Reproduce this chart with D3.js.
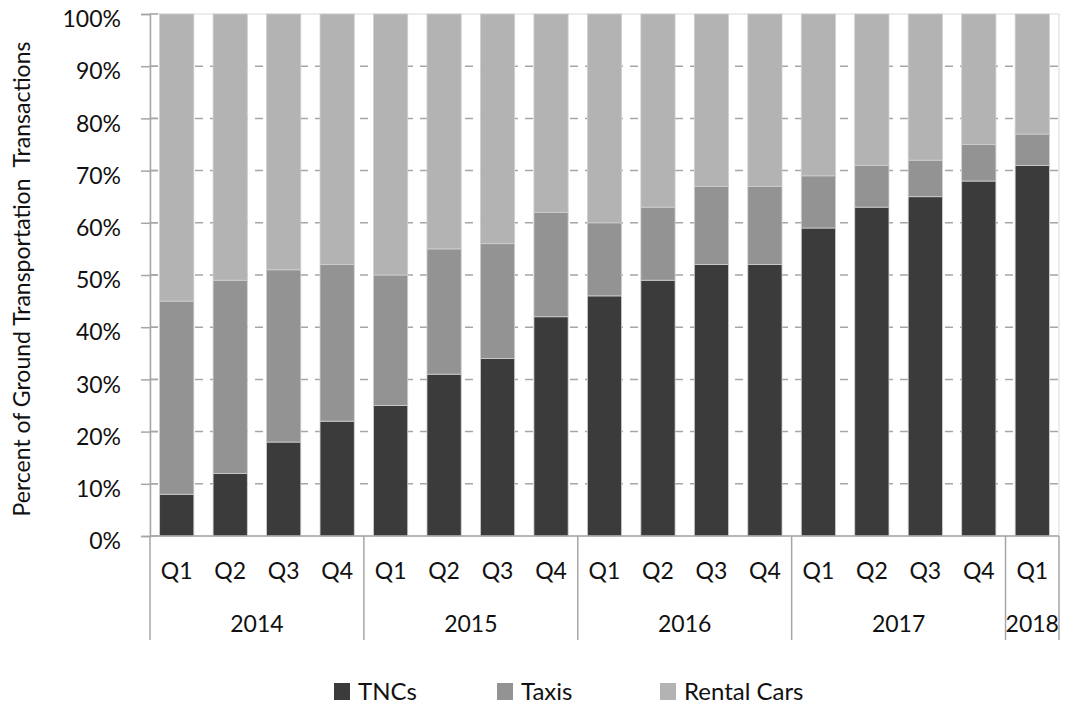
<!DOCTYPE html>
<html>
<head>
<meta charset="utf-8">
<script src="https://cdn.jsdelivr.net/npm/d3@7"></script>
<style>
  body { margin: 0; background: #fff; }
  text { font-family: Lato, "Open Sans", sans-serif; fill: #111; font-variant-numeric: tabular-nums; }
</style>
</head>
<body>
<div id="chart"></div>
<script>
// quarters and years on the two-level x axis
const quarters = ["Q1","Q2","Q3","Q4","Q1","Q2","Q3","Q4","Q1","Q2","Q3","Q4","Q1","Q2","Q3","Q4","Q1"];
const years = ["2014","2014","2014","2014","2015","2015","2015","2015","2016","2016","2016","2016","2017","2017","2017","2017","2018"];

// share of transactions, percent
const tncs   = [8, 12, 18, 22, 25, 31, 34, 42, 46, 49, 52, 52, 59, 63, 65, 68, 71];
const taxis  = [37, 37, 33, 30, 25, 24, 22, 20, 14, 14, 15, 15, 10, 8, 7, 7, 6];
const rental = [55, 51, 49, 48, 50, 45, 44, 38, 40, 37, 33, 33, 31, 29, 28, 25, 23];

const seriesNames = ["TNCs", "Taxis", "Rental Cars"];
const colors = ["#3b3b3b", "#939393", "#b3b3b3"];
const yTicks = [0, 10, 20, 30, 40, 50, 60, 70, 80, 90, 100];

const width = 1065, height = 708;
const margin = {top: 14, right: 6, bottom: 172, left: 150};
const plotW = width - margin.left - margin.right;
const plotH = height - margin.top - margin.bottom;

const rows = quarters.map((q, i) => ({
  key: i, q: q, year: years[i],
  "TNCs": tncs[i], "Taxis": taxis[i], "Rental Cars": rental[i]
}));

const svg = d3.select("#chart").append("svg")
  .attr("width", width)
  .attr("height", height);

const g = svg.append("g")
  .attr("transform", `translate(${margin.left},${margin.top})`);

const x = d3.scaleBand()
  .domain(rows.map(d => d.key))
  .range([0, plotW])
  .paddingInner(0.36)
  .paddingOuter(0.18);

const y = d3.scaleLinear()
  .domain([0, 100])
  .range([plotH, 0]);

// plot border (light)
g.append("rect")
  .attr("x", 0).attr("y", 0)
  .attr("width", plotW).attr("height", plotH)
  .attr("fill", "none")
  .attr("stroke", "#d9d9d9")
  .attr("stroke-width", 1);

// dashed gridlines
g.append("g").selectAll("line")
  .data(yTicks.filter(t => t > 0 && t < 100))
  .enter().append("line")
  .attr("x1", 0).attr("x2", plotW)
  .attr("y1", d => y(d)).attr("y2", d => y(d))
  .attr("stroke", "#a6a6a6")
  .attr("stroke-width", 1.5)
  .attr("stroke-dasharray", "8,7");

// stacked bars
const stack = d3.stack().keys(seriesNames);
const layers = stack(rows);

g.append("g").selectAll("g")
  .data(layers)
  .enter().append("g")
  .attr("fill", (d, i) => colors[i])
  .selectAll("rect")
  .data(d => d)
  .enter().append("rect")
  .attr("x", d => x(d.data.key))
  .attr("width", x.bandwidth())
  .attr("y", d => y(d[1]))
  .attr("height", d => y(d[0]) - y(d[1]))
  .attr("stroke", "#cfcfcf")
  .attr("stroke-width", 0.8);

// y axis
const yAxis = g.append("g")
  .call(d3.axisLeft(y)
    .tickValues(yTicks)
    .tickSize(9)
    .tickPadding(20)
    .tickFormat(d => d + "%"));
yAxis.select(".domain").attr("stroke", "#a6a6a6").attr("stroke-width", 1.5);
yAxis.selectAll(".tick line").attr("stroke", "#a6a6a6").attr("stroke-width", 1.5);
yAxis.selectAll(".tick text")
  .attr("font-size", 23)
  .attr("dy", "0.55em")
  .attr("y", 0)
  .style("font-family", "Lato, sans-serif")
  .attr("fill", "#111");

// tick marks cross to the right a little
g.append("g").selectAll("line")
  .data(yTicks)
  .enter().append("line")
  .attr("x1", 0).attr("x2", 8)
  .attr("y1", d => y(d)).attr("y2", d => y(d))
  .attr("stroke", "#a6a6a6")
  .attr("stroke-width", 1.5);

// x axis line
g.append("line")
  .attr("x1", 0).attr("x2", plotW)
  .attr("y1", plotH).attr("y2", plotH)
  .attr("stroke", "#a6a6a6")
  .attr("stroke-width", 1.5);

// quarter labels
g.append("g").selectAll("text")
  .data(rows)
  .enter().append("text")
  .attr("x", d => x(d.key) + x.bandwidth() / 2)
  .attr("y", plotH + 43)
  .attr("text-anchor", "middle")
  .attr("font-size", 23)
  .text(d => d.q);

// year groups
const step = x.step();
const groups = d3.groups(rows, d => d.year).map(([yr, list]) => ({
  year: yr,
  start: list[0].key,
  end: list[list.length - 1].key + 1
}));

const bounds = [0].concat(groups.map(d => d.end));
g.append("g").selectAll("line")
  .data(bounds)
  .enter().append("line")
  .attr("x1", d => d * step).attr("x2", d => d * step)
  .attr("y1", plotH).attr("y2", plotH + 104)
  .attr("stroke", "#a6a6a6")
  .attr("stroke-width", 1.5);

g.append("g").selectAll("text")
  .data(groups)
  .enter().append("text")
  .attr("x", d => (d.start + d.end) / 2 * step)
  .attr("y", plotH + 96)
  .attr("text-anchor", "middle")
  .attr("font-size", 23)
  .text(d => d.year);

// y axis title
svg.append("text")
  .attr("transform", `translate(30,${margin.top + plotH / 2 + 4}) rotate(-90)`)
  .attr("text-anchor", "middle")
  .attr("font-size", 23)
  .style("white-space", "pre")
  .text("Percent of Ground Transportation  Transactions");

// legend
const legendX = [334, 497, 660];
const legend = svg.append("g").selectAll("g")
  .data(seriesNames)
  .enter().append("g")
  .attr("transform", (d, i) => `translate(${legendX[i]},683)`);

legend.append("rect")
  .attr("width", 16).attr("height", 17)
  .attr("fill", (d, i) => colors[i]);

legend.append("text")
  .attr("x", 24)
  .attr("y", 17)
  .attr("font-size", 24)
  .text(d => d);
</script>
</body>
</html>
